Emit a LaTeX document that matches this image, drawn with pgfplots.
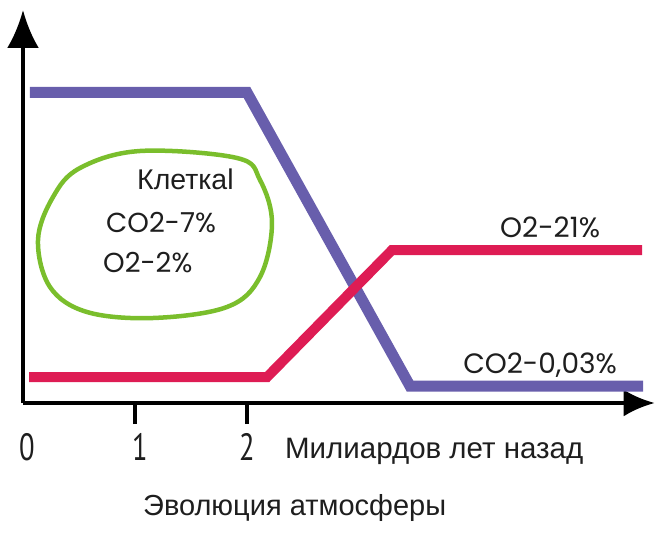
\documentclass[border=0pt]{standalone}
\usepackage{fontspec}
\usepackage{pgfplots}
\pgfplotsset{compat=1.18}
\usetikzlibrary{arrows.meta}
\setmainfont{Liberation Sans}
\newfontfamily\gothic{Poppins}
\newfontfamily\narrowfont{PT Sans}[FakeStretch=0.75]
\definecolor{cblue}{RGB}{104,94,172}
\definecolor{cred}{RGB}{222,28,84}
\definecolor{cgreen}{RGB}{122,190,44}
\definecolor{ctext}{RGB}{30,30,30}
\begin{document}
\begin{tikzpicture}
\path[use as bounding box] (-23pt,-130pt) rectangle (633pt,403pt);
\begin{axis}[
  x=112pt, y=1pt, anchor=origin, at={(0,0)},
  xmin=0, xmax=5.64, ymin=0, ymax=393,
  axis lines=left,
  x axis line style={line width=4pt, -{Latex[length=31pt,width=27pt]}},
  y axis line style={line width=4pt, -{Latex[length=38pt,width=32pt]}},
  xtick={1,2}, xticklabels={\hspace*{10pt}1,\raisebox{-5pt}{2}},
  extra x ticks={0}, extra x tick labels={\hspace*{8pt}0},
  extra x tick style={major tick length=0pt, xticklabel style={yshift=-21pt}},
  ytick=\empty,
  tick align=outside,
  major tick length=21pt,
  tick style={line width=4pt, black},
  xticklabel style={font=\narrowfont\fontsize{38}{38}\selectfont, text=ctext, anchor=north, inner sep=0pt, yshift=-9pt},
  clip=false,
]
\addplot[cblue, line width=11pt, line cap=butt] coordinates {(0.0625,310.5) (2.0,310.5) (3.455,17) (5.536,17)};
\addplot[cred, line width=10pt, line cap=butt] coordinates {(0.054,26) (2.18,26) (3.295,153) (5.527,153)};
\draw[cgreen, line width=4.5pt] plot[smooth cycle, tension=0.6] coordinates {
 (axis cs:1.045,252) (axis cs:1.911,245) (axis cs:2.116,223) (axis cs:2.223,180)
 (axis cs:2.116,126) (axis cs:1.821,96) (axis cs:1.161,85) (axis cs:0.571,91)
 (axis cs:0.241,116) (axis cs:0.134,163) (axis cs:0.268,206) (axis cs:0.509,235)};
\node[anchor=base west, inner sep=0pt, text=ctext, font=\fontsize{28.5}{28.5}\selectfont] at (axis cs:1.018,213) {Клеткаl};
\node[anchor=base west, inner sep=0pt, text=ctext, font=\gothic\fontsize{27.5}{27.5}\selectfont] at (axis cs:0.741,171) {CO2-7\%};
\node[anchor=base west, inner sep=0pt, text=ctext, font=\gothic\fontsize{27.5}{27.5}\selectfont] at (axis cs:0.714,131) {O2-2\%};
\node[anchor=base west, inner sep=0pt, text=ctext, font=\gothic\fontsize{28}{28}\selectfont] at (axis cs:4.259,166) {O2-21\%};
\node[anchor=base west, inner sep=0pt, text=ctext, font=\gothic\fontsize{28}{28}\selectfont] at (axis cs:3.929,30) {CO2-0,03\%};
\node[anchor=base west, inner sep=0pt, text=ctext, font=\fontsize{29.5}{29.5}\selectfont] at (axis cs:2.339,-55) {Милиардов лет назад};
\node[anchor=base west, inner sep=0pt, text=ctext, font=\fontsize{29}{29}\selectfont] at (axis cs:1.071,-112) {Эволюция атмосферы};
\end{axis}
\end{tikzpicture}
\end{document}
